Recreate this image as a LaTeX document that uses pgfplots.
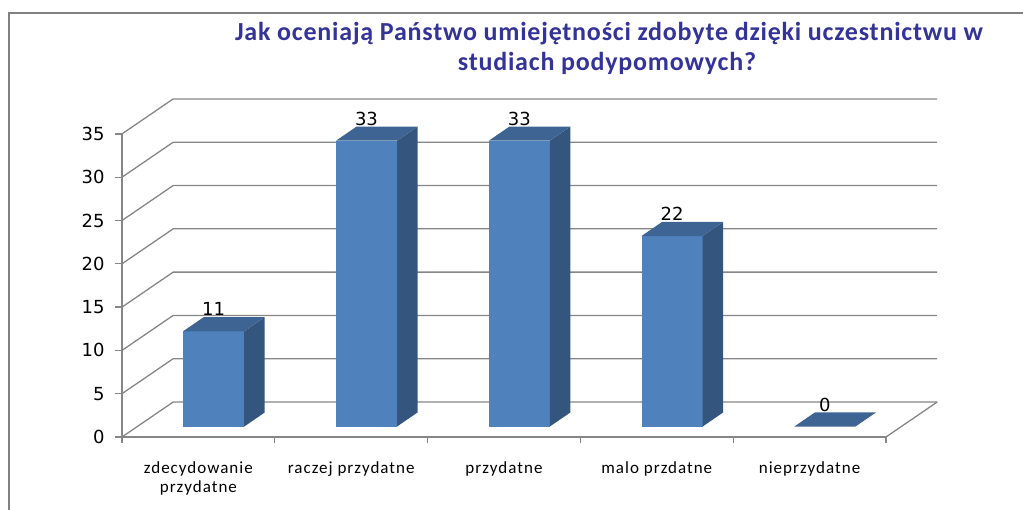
\documentclass[border=0pt]{standalone}
\usepackage{pgfplots}
\pgfplotsset{compat=1.18}
\usepackage{fontspec}
\setmainfont{Carlito}
\newfontfamily\dejavu{DejaVu Sans}
\newfontfamily\catfont[LetterSpace=6]{Carlito}
\newfontfamily\titlefont[LetterSpace=3]{Carlito}
\definecolor{gridgray}{RGB}{134,134,134}
\definecolor{framegray}{RGB}{128,128,128}
\definecolor{frontc}{RGB}{79,129,189}
\definecolor{sidec}{RGB}{52,85,126}
\definecolor{topc}{RGB}{61,100,146}
\definecolor{titleblue}{RGB}{51,51,153}
\begin{document}
\begin{tikzpicture}
\path[use as bounding box] (0,0) rectangle (1023pt,-510pt);
\draw[framegray, line width=2pt] (9pt,-510pt) -- (9pt,-13pt) -- (1023pt,-13pt);
\node[anchor=base, font=\titlefont\bfseries\fontsize{26}{30}\selectfont, text=titleblue, inner sep=0pt] at (609pt,-41pt) {Jak oceniają Państwo umiejętności zdobyte dzięki uczestnictwu w};
\node[anchor=base, font=\titlefont\bfseries\fontsize{26}{30}\selectfont, text=titleblue, inner sep=0pt] at (607pt,-71pt) {studiach podypomowych?};
\begin{axis}[
  at={(122pt,-437pt)}, anchor=south west,
  x=152.8pt, y=8.66pt,
  xmin=-0.5, xmax=4.5, ymin=0, ymax=35,
  clip=false,
  axis x line*=bottom, axis y line*=left,
  axis line style={gridgray, line width=1.3pt, -},
  ytick={0,5,...,35},
  xtick={0,1,2,3,4},
  xticklabels={{zdecydowanie\\przydatne},{raczej przydatne},{przydatne},{malo przdatne},{nieprzydatne}},
  minor xtick={-0.5,0.5,...,4.5},
  every major x tick/.append style={draw=none},
  tick align=outside,
  major tick length=7pt, minor tick length=6pt,
  tick style={gridgray, line width=1.3pt},
  /pgf/number format/assume math mode=true,
  yticklabel style={font=\dejavu\fontsize{18}{21}\selectfont, text=black, xshift=-7pt},
  xticklabel style={font=\catfont\fontsize{17}{19}\selectfont, text=black, align=center, anchor=north, yshift=-14pt},
]
% gridlines: left wall + back wall
\addplot[gridgray, line width=1.3pt, forget plot] coordinates {(-0.5,0) (-0.165,4.04) (4.835,4.04)};
\addplot[gridgray, line width=1.3pt, forget plot] coordinates {(-0.5,5) (-0.165,9.04) (4.835,9.04)};
\addplot[gridgray, line width=1.3pt, forget plot] coordinates {(-0.5,10) (-0.165,14.04) (4.835,14.04)};
\addplot[gridgray, line width=1.3pt, forget plot] coordinates {(-0.5,15) (-0.165,19.04) (4.835,19.04)};
\addplot[gridgray, line width=1.3pt, forget plot] coordinates {(-0.5,20) (-0.165,24.04) (4.835,24.04)};
\addplot[gridgray, line width=1.3pt, forget plot] coordinates {(-0.5,25) (-0.165,29.04) (4.835,29.04)};
\addplot[gridgray, line width=1.3pt, forget plot] coordinates {(-0.5,30) (-0.165,34.04) (4.835,34.04)};
\addplot[gridgray, line width=1.3pt, forget plot] coordinates {(-0.5,35) (-0.165,39.04) (4.835,39.04)};
\addplot[gridgray, line width=1.3pt, forget plot] coordinates {(4.5,0) (4.835,4.04)};
% bar 1: 11
\addplot[fill=frontc, draw=none, forget plot] coordinates {(-0.1,1.21) (0.3,1.21) (0.3,12.21) (-0.1,12.21)} -- cycle;
\addplot[fill=sidec, draw=none, forget plot] coordinates {(0.3,1.21) (0.434,2.83) (0.434,13.83) (0.3,12.21)} -- cycle;
\addplot[fill=topc, draw=none, forget plot] coordinates {(-0.1,12.21) (0.3,12.21) (0.434,13.83) (0.034,13.83)} -- cycle;
% bar 2: 33
\addplot[fill=frontc, draw=none, forget plot] coordinates {(0.9,1.21) (1.3,1.21) (1.3,34.21) (0.9,34.21)} -- cycle;
\addplot[fill=sidec, draw=none, forget plot] coordinates {(1.3,1.21) (1.434,2.83) (1.434,35.83) (1.3,34.21)} -- cycle;
\addplot[fill=topc, draw=none, forget plot] coordinates {(0.9,34.21) (1.3,34.21) (1.434,35.83) (1.034,35.83)} -- cycle;
% bar 3: 33
\addplot[fill=frontc, draw=none, forget plot] coordinates {(1.9,1.21) (2.3,1.21) (2.3,34.21) (1.9,34.21)} -- cycle;
\addplot[fill=sidec, draw=none, forget plot] coordinates {(2.3,1.21) (2.434,2.83) (2.434,35.83) (2.3,34.21)} -- cycle;
\addplot[fill=topc, draw=none, forget plot] coordinates {(1.9,34.21) (2.3,34.21) (2.434,35.83) (2.034,35.83)} -- cycle;
% bar 4: 22
\addplot[fill=frontc, draw=none, forget plot] coordinates {(2.9,1.21) (3.3,1.21) (3.3,23.21) (2.9,23.21)} -- cycle;
\addplot[fill=sidec, draw=none, forget plot] coordinates {(3.3,1.21) (3.434,2.83) (3.434,24.83) (3.3,23.21)} -- cycle;
\addplot[fill=topc, draw=none, forget plot] coordinates {(2.9,23.21) (3.3,23.21) (3.434,24.83) (3.034,24.83)} -- cycle;
% bar 5: 0
\addplot[fill=topc, draw=none, forget plot] coordinates {(3.9,1.21) (4.3,1.21) (4.434,2.83) (4.034,2.83)} -- cycle;
% data labels
\addplot[draw=none, mark=none, forget plot, nodes near coords, point meta=explicit symbolic,
  nodes near coords style={anchor=base, font=\dejavu\fontsize{18}{21}\selectfont, text=black, inner sep=0pt}]
  coordinates {(0.1,14.0)[11] (1.1,36.0)[33] (2.1,36.0)[33] (3.1,25.0)[22] (4.1,3.0)[0]};
\end{axis}
\end{tikzpicture}
\end{document}
